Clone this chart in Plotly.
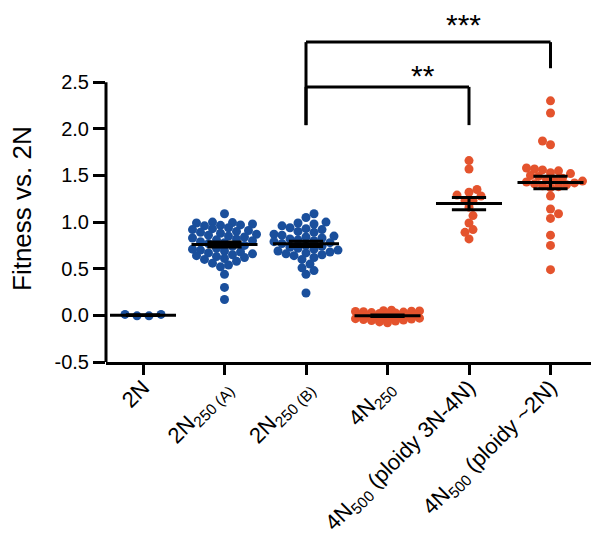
import numpy as np
import plotly.graph_objects as go

# ---------------- data ----------------
tick_labels = [
    "2N",
    "2N<sub>250 (A)</sub>",
    "2N<sub>250 (B)</sub>",
    "4N<sub>250</sub>",
    "4N<sub>500</sub> (ploidy 3N-4N)",
    "4N<sub>500</sub> (ploidy ~2N)",
]
y_ticks = [-0.5, 0.0, 0.5, 1.0, 1.5, 2.0, 2.5]
y_tick_text = ["-0.5", "0.0", "0.5", "1.0", "1.5", "2.0", "2.5"]

g_2N = [0.01, -0.005, -0.005, 0.01]
g_2N250A = [1.09,
            1.00, 0.995, 0.99, 0.98, 0.97, 0.965, 0.96,
            0.94, 0.93, 0.92, 0.91, 0.90, 0.89, 0.88, 0.87, 0.86,
            0.85, 0.84, 0.83, 0.82, 0.81, 0.80, 0.79, 0.78, 0.77,
            0.75, 0.74, 0.72, 0.71, 0.70, 0.69, 0.68, 0.67, 0.66, 0.65,
            0.64, 0.63, 0.62, 0.61, 0.60, 0.58, 0.56, 0.54, 0.52,
            0.44, 0.30, 0.17]
g_2N250B = [1.09, 1.05,
            1.00, 0.99, 0.98, 0.96, 0.94, 0.93, 0.92, 0.90, 0.89,
            0.87, 0.86, 0.85, 0.84, 0.83, 0.82, 0.81, 0.80, 0.79, 0.78, 0.77,
            0.75, 0.74, 0.73, 0.72, 0.71, 0.70, 0.69, 0.68, 0.67, 0.66,
            0.65, 0.64, 0.62, 0.60,
            0.55, 0.51, 0.48, 0.44,
            0.24]
g_4N250 = [0.055, 0.05, 0.048, 0.045, 0.042, 0.04, 0.035, 0.03,
           0.025, 0.02, 0.015, 0.01, 0.005, 0.0,
           -0.005, -0.01, -0.015, -0.02, -0.025, -0.03,
           -0.035, -0.04, -0.045, -0.05, -0.055, -0.06, -0.07, -0.08]
g_4N500_3N4N = [1.66, 1.57, 1.35, 1.32, 1.29, 1.28, 1.23, 1.23, 1.16,
                1.07, 0.99, 0.92, 0.89, 0.82]
g_4N500_2N = [2.30, 2.17, 1.87, 1.83, 1.58, 1.57, 1.56, 1.55, 1.53, 1.52,
              1.50, 1.49, 1.47, 1.46, 1.45, 1.44, 1.43, 1.42, 1.41, 1.40,
              1.39, 1.38, 1.37, 1.28, 1.14, 1.09, 1.04, 0.86, 0.75, 0.49]

groups = [g_2N, g_2N250A, g_2N250B, g_4N250, g_4N500_3N4N, g_4N500_2N]
BLUE = "#1A4F9C"
ORANGE = "#E4532D"
colors = [BLUE, BLUE, BLUE, ORANGE, ORANGE, ORANGE]

# significance brackets: (x_left, x_right, y_top, y_left_bottom, y_right_bottom)
brackets = [
    (2, 5, 2.93, 2.04, 2.65),
    (2, 4, 2.45, 2.04, 2.04),
]
sig_labels = [("***", 3.93, 3.12), ("**", 3.44, 2.57)]

# ---------------- layout geometry ----------------
# the page body has an 8px default margin, so the figure is 8px smaller
W, H = 593, 527
ML, MR, MT, MB = 98, 10, 0, 173
XR = [-0.454, 5.497]
PLOT_H = H - MT - MB
PX_PER_Y = 93.26
YR = [-0.5, -0.5 + PLOT_H / PX_PER_Y]
px_x = (W - ML - MR) / (XR[1] - XR[0])
px_y = PLOT_H / (YR[1] - YR[0])

STEP = 4.0
KMAX = 8


def swarm_offsets(vals):
    vals = np.asarray(vals, dtype=float)
    diam = 12.0 if len(vals) < 6 else 7.5
    order = np.argsort(vals, kind="stable")
    placed = []
    offs = np.zeros(len(vals))
    for n, i in enumerate(order):
        yp = vals[i] * px_y
        sign = 1 if n % 2 == 0 else -1
        cands = [0.0]
        for k in range(1, KMAX + 1):
            cands += [sign * k * STEP, -sign * k * STEP]
        best, bestd = 0.0, -1.0
        for c in cands:
            if placed:
                d = min(np.hypot(c - px, yp - py) for px, py in placed)
            else:
                d = 1e9
            if d >= diam:
                best = c
                break
            if d > bestd:
                bestd, best = d, c
        offs[i] = best
        placed.append((best, yp))
    offs = offs - (offs.max() + offs.min()) / 2 if len(vals) < 6 else offs
    return offs / px_x


fig = go.Figure()

for gi, (vals, col) in enumerate(zip(groups, colors)):
    offs = swarm_offsets(vals)
    fig.add_trace(go.Scatter(
        x=gi + offs, y=vals, mode="markers",
        marker=dict(color=col, size=9, line=dict(width=0)),
        showlegend=False, hoverinfo="skip", cliponaxis=False))

# mean +/- SEM
lx, ly = [], []
for gi, vals in enumerate(groups):
    v = np.asarray(vals)
    m = v.mean()
    s = v.std(ddof=1) / np.sqrt(len(v))
    lx += [gi - 0.405, gi + 0.405, None, gi, gi, None,
           gi - 0.21, gi + 0.21, None, gi - 0.21, gi + 0.21, None]
    ly += [m, m, None, m - s, m + s, None,
           m + s, m + s, None, m - s, m - s, None]
fig.add_trace(go.Scatter(x=lx, y=ly, mode="lines",
                         line=dict(color="black", width=3),
                         showlegend=False, hoverinfo="skip"))

shapes = [dict(type="line", xref="paper", yref="y", x0=0, x1=0,
               y0=YR[0], y1=y_ticks[-1], line=dict(color="black", width=3))]
for xl, xr, yt, ylb, yrb in brackets:
    shapes += [
        dict(type="line", xref="x", yref="y", x0=xl, x1=xr, y0=yt, y1=yt,
             line=dict(color="black", width=3)),
        dict(type="line", xref="x", yref="y", x0=xl, x1=xl, y0=ylb, y1=yt,
             line=dict(color="black", width=3)),
        dict(type="line", xref="x", yref="y", x0=xr, x1=xr, y0=yrb, y1=yt,
             line=dict(color="black", width=3)),
    ]

annotations = [dict(text=t, x=x, y=y, xref="x", yref="y", showarrow=False,
                    font=dict(size=30, color="black"))
               for t, x, y in sig_labels]
annotations.append(dict(text="Fitness vs. 2N", textangle=-90,
                        xref="paper", yref="paper",
                        x=(14 - ML) / (W - ML - MR), xanchor="center",
                        y=(H - MB - 201) / PLOT_H, yanchor="middle",
                        showarrow=False, font=dict(size=26, color="black")))

FONT = "Arial, Liberation Sans, sans-serif"
fig.update_layout(
    width=W, height=H,
    margin=dict(l=ML, r=MR, t=MT, b=MB, pad=0, autoexpand=False),
    paper_bgcolor="white", plot_bgcolor="white",
    font=dict(family=FONT, color="black", size=20),
    shapes=shapes, annotations=annotations,
    xaxis=dict(range=XR, tickvals=list(range(len(tick_labels))),
               ticktext=tick_labels, tickangle=-45,
               showline=True, linecolor="black", linewidth=3,
               ticks="outside", ticklen=10, tickwidth=3, tickcolor="black",
               ticklabelstandoff=-9,
               showgrid=False, zeroline=False,
               tickfont=dict(size=22, family=FONT, color="black")),
    yaxis=dict(range=YR, tickvals=y_ticks, ticktext=y_tick_text,
               showline=False, ticks="outside", ticklen=12, tickwidth=3,
               tickcolor="black", showgrid=False, zeroline=False,
               tickfont=dict(size=20, family=FONT, color="black")),
)

fig.write_html("out.html")
